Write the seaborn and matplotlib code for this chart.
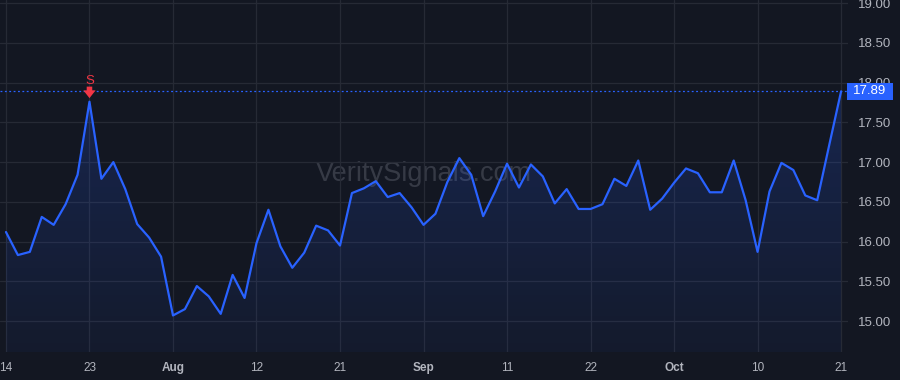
import numpy as np
import pandas as pd
import matplotlib
matplotlib.use("Agg")
import matplotlib.pyplot as plt
import seaborn as sns
from matplotlib.transforms import blended_transform_factory
from matplotlib.colors import LinearSegmentedColormap
from matplotlib.patches import Rectangle

# ---- data ----
dates = pd.bdate_range("2025-07-14", "2025-10-21")
dates = dates[dates != pd.Timestamp("2025-09-01")]  # Labor Day

prices = [
    16.12, 15.83, 15.87, 16.31, 16.21, 16.47, 16.84, 17.76, 16.79, 17.00,
    16.66, 16.22, 16.05, 15.81, 15.07, 15.15, 15.44, 15.31, 15.09, 15.58,
    15.29, 15.98, 16.40, 15.94, 15.67, 15.86, 16.20, 16.14, 15.95, 16.61,
    16.67, 16.76, 16.56, 16.61, 16.43, 16.21, 16.35, 16.75, 17.05, 16.84,
    16.32, 16.63, 16.98, 16.68, 16.97, 16.82, 16.48, 16.66, 16.41, 16.41,
    16.47, 16.79, 16.70, 17.02, 16.40, 16.54, 16.74, 16.92, 16.86, 16.62,
    16.62, 17.02, 16.52, 15.87, 16.63, 16.99, 16.90, 16.58, 16.52, 17.21,
    17.89,
]
last_price = 17.89
signal_index = 7          # "S" signal on Jul 23
signal_label = "S"
x_tick_labels = ["14", "23", "Aug", "12", "21", "Sep", "11", "22", "Oct", "10", "21"]
month_labels = {"Aug", "Sep", "Oct"}
y_ticks = [15.00, 15.50, 16.00, 16.50, 17.00, 17.50, 18.00, 18.50, 19.00]
watermark = "VeritySignals.com"

# ---- style ----
BG = "#131722"
GRID = "#262a35"
LINE = "#2962ff"
TXT = "#b2b5be"
RED = "#f23645"

sns.set_theme(style="dark")
plt.rcParams["font.family"] = ["Liberation Sans", "DejaVu Sans"]

df = pd.DataFrame({"idx": np.arange(len(prices)), "date": dates[: len(prices)], "price": prices})

fig = plt.figure(figsize=(9, 3.8), dpi=100, facecolor=BG)
ax = fig.add_axes([0, 28 / 380, 848 / 900, 352 / 380])
ax.set_facecolor(BG)

ymin, ymax = 14.61, 19.04
xmin, xmax = -0.5, 70.58
ax.set_xlim(xmin, xmax)
ax.set_ylim(ymin, ymax)

# gradient fill under line
poly = ax.fill_between(df["idx"], df["price"], ymin, color="none", lw=0)
cmap = LinearSegmentedColormap.from_list(
    "g", [(0.16, 0.38, 1.0, 0.05), (0.16, 0.38, 1.0, 0.20)]
)
grad = np.linspace(0, 1, 256).reshape(-1, 1)
img = ax.imshow(grad, cmap=cmap, aspect="auto", origin="lower",
                extent=[xmin, xmax, ymin, max(prices)], zorder=1)
path = poly.get_paths()[0]
img.set_clip_path(path, transform=ax.transData)

sns.lineplot(data=df, x="idx", y="price", ax=ax, color=LINE, lw=1.6, zorder=3)

# grid
tick_pos = np.arange(0, len(prices), 7)
ax.set_xticks(tick_pos)
ax.set_xticklabels(x_tick_labels)
for lab in ax.get_xticklabels():
    if lab.get_text() in month_labels:
        lab.set_fontweight("bold")
ax.set_yticks(y_ticks)
ax.set_yticklabels([f"{v:.2f}" for v in y_ticks])
ax.grid(True, color=GRID, lw=0.9)
ax.set_axisbelow(True)
ax.yaxis.tick_right()
ax.tick_params(axis="y", length=0, pad=7, labelsize=9.5, labelcolor=TXT)
ax.tick_params(axis="x", length=0, pad=7, labelsize=8.5, labelcolor=TXT)
ax.set_xlabel("")
ax.set_ylabel("")
for s in ax.spines.values():
    s.set_visible(False)

# last price dotted line + label box
ax.axhline(last_price, color=LINE, lw=0.9, ls=(0, (1.5, 2)), zorder=2)
trans = blended_transform_factory(ax.transAxes, ax.transData)
box_h = 0.21
ax.add_patch(Rectangle((847 / 848, last_price - box_h / 2), 46 / 848, box_h,
                       transform=trans, fc=LINE, ec="none", zorder=9, clip_on=False))
ax.text(870 / 848, last_price, f"{last_price:.2f}", transform=trans, ha="center",
        va="center", color="white", fontsize=9.5, zorder=10, clip_on=False)

# signal marker
sig_y = prices[signal_index]
ax.annotate("", xy=(signal_index, sig_y + 0.045), xytext=(signal_index, sig_y + 0.19),
            arrowprops=dict(arrowstyle="simple,head_width=1.1,head_length=0.7,tail_width=0.5",
                            color=RED, lw=0, mutation_scale=8, shrinkA=0, shrinkB=0),
            zorder=6)
ax.text(signal_index, sig_y + 0.26, signal_label, color=RED, fontsize=9.5,
        ha="center", va="center", zorder=6)

# watermark
ax.text(0.5, 0.505, watermark, transform=ax.transAxes, ha="center", va="center",
        fontsize=19.5, color="#3a3e4a", alpha=0.9, zorder=0.5)

fig.savefig("out.png", dpi=100, facecolor=BG)
